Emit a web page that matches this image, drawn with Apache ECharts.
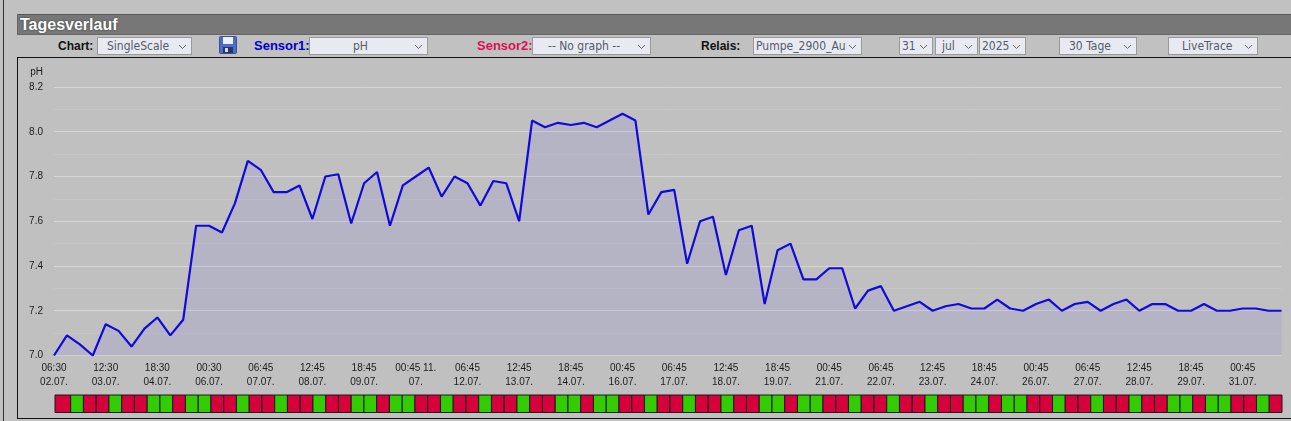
<!DOCTYPE html>
<html>
<head>
<meta charset="utf-8">
<title>Tagesverlauf</title>
<script src="https://cdn.jsdelivr.net/npm/echarts@6/dist/echarts.min.js"></script>
<style>
html,body{margin:0;padding:0;width:1291px;height:421px;overflow:hidden;background:#c1c1c1;font-family:"Liberation Sans",Arial,sans-serif}
.abs{position:absolute}
#leftline{left:3px;top:0;width:1px;height:421px;background:#333}
#titlebar{left:18px;top:14px;width:1273px;height:19px;background:#777;border-top:1px solid #555;border-bottom:1px solid #666;box-shadow:-1px 0 0 #666;color:#fff;font-weight:bold;font-size:16px;line-height:19px;text-indent:2px;text-shadow:0 0 2px #333}
.lab{top:38px;height:16px;line-height:16px;font-size:12px;font-weight:bold;color:#111;white-space:nowrap}
.sel{top:37px;height:16px;line-height:17px;box-sizing:content-box;background:#e9e9f1;border:1px solid #9a9a9a;font-family:"DejaVu Sans Condensed","DejaVu Sans",sans-serif;font-size:12px;color:#555b6b;white-space:nowrap;overflow:hidden}
.sel span.t{position:absolute;top:0}
.sel svg{position:absolute;top:6px;right:4px}
#frame{left:17px;top:57px;width:1274px;height:360px;border:1px solid #111;border-right:none;box-sizing:content-box;background:#c0c0c0}
#main{position:absolute;left:0;top:0;width:1291px;height:421px}
</style>
</head>
<body>
<div class="abs" id="leftline"></div>
<div class="abs" id="titlebar">Tagesverlauf</div>
<div class="abs" id="toolbar"></div>
<div class="abs" id="frame"></div>
<svg class="abs" style="left:219px;top:36px" width="18" height="18" viewBox="0 0 18 18">
  <rect x="0.5" y="0.5" width="17" height="17" rx="1" fill="#4a6cc8" stroke="#3a4f9e"/>
  <rect x="4" y="1" width="10" height="7" fill="#eef0f8"/>
  <rect x="4" y="11" width="10" height="6" fill="#2c3466"/>
  <rect x="6" y="12" width="3" height="4" fill="#d6d9e6"/>
</svg>
<div id="main"></div>
<script>
// pH, one value every 7.5 hours from 02.07. 06:30 to 31.07.
const phValues = [
  7.00,7.09,7.05,7.00,7.14,7.11,7.04,7.12,7.17,7.09,7.16,7.58,7.58,7.55,7.68,7.87,
  7.83,7.73,7.73,7.76,7.61,7.80,7.81,7.59,7.77,7.82,7.58,7.76,7.80,7.84,7.71,7.80,
  7.77,7.67,7.78,7.77,7.60,8.05,8.02,8.04,8.03,8.04,8.02,8.05,8.08,8.05,7.63,7.73,
  7.74,7.41,7.60,7.62,7.36,7.56,7.58,7.23,7.47,7.50,7.34,7.34,7.39,7.39,7.21,7.29,
  7.31,7.20,7.22,7.24,7.20,7.22,7.23,7.21,7.21,7.25,7.21,7.20,7.23,7.25,7.20,7.23,
  7.24,7.20,7.23,7.25,7.20,7.23,7.23,7.20,7.20,7.23,7.20,7.20,7.21,7.21,7.20,7.20
];
const tickLabels = [
  "06:30\n02.07.","12:30\n03.07.","18:30\n04.07.","00:30\n06.07.","06:45\n07.07.","12:45\n08.07.",
  "18:45\n09.07.","00:45 11.\n07.","06:45\n12.07.","12:45\n13.07.","18:45\n14.07.","00:45\n16.07.",
  "06:45\n17.07.","12:45\n18.07.","18:45\n19.07.","00:45\n21.07.","06:45\n22.07.","12:45\n23.07.",
  "18:45\n24.07.","00:45\n26.07.","06:45\n27.07.","12:45\n28.07.","18:45\n29.07.","00:45\n31.07."
];
// relay state per slot: 0 = off (red), 1 = on (green)
const relayStates = [
  0,1,0,0,1,0,0,1,1,0,1,1,0,0,1,0,0,1,0,0,1,0,0,1,1,0,1,1,0,0,
  1,0,0,1,0,0,1,0,0,1,1,0,1,1,0,0,1,0,0,1,0,0,1,0,0,1,1,0,1,1,0,0,1,
  0,0,1,0,0,1,0,0,1,1,0,1,1,0,0,1,0,0,1,0,0,1,0,0,1,1,0,1,1,0,0,1,0
];
// relative slot lengths: the first slot is a bit longer than the others
const relayFirstSlot = 1.23;
const yTicks = { min: 7.0, max: 8.2, step: 0.2 };
const toolbarLabels = [
  ["Chart:",58,"#111",12],["Sensor1:",254,"#0000cc",13],["Sensor2:",477,"#dd0f55",13],["Relais:",701,"#111",12]
];
const toolbarSelects = [
  ["SingleScale",97,95,9],["pH",309,119,43],["-- No graph --",532,119,15],["Pumpe_2900_Au",753,109,2],
  ["31",899,34,2],["jul",935,43,6],["2025",979,47,2],["30 Tage",1059,78,9],["LiveTrace",1168,90,13]
];

const chevron = '<svg width="9" height="6" viewBox="0 0 9 6"><path d="M1 1 L4.5 4.5 L8 1" fill="none" stroke="#666" stroke-width="1"/></svg>';
const tb = document.getElementById('toolbar');
tb.innerHTML =
  toolbarLabels.map(l => `<div class="abs lab" style="left:${l[1]}px;color:${l[2]};font-size:${l[3]}px">${l[0]}</div>`).join('') +
  toolbarSelects.map(s => `<div class="abs sel" style="left:${s[1]}px;width:${s[2]-2}px"><span class="t" style="left:${s[3]}px">${s[0]}</span>${chevron}</div>`).join('');

const categories = phValues.map((_, i) => i % 4 === 0 ? tickLabels[i / 4] : '');

let edge = 0;
const relaySegments = relayStates.map((state, i) => {
  const len = i === 0 ? relayFirstSlot : 1;
  const seg = [edge, edge + len, state];
  edge += len;
  return seg;
});

const chart = echarts.init(document.getElementById('main'), null, { renderer: 'canvas' });
chart.setOption({
  animation: false,
  backgroundColor: 'transparent',
  textStyle: { fontFamily: '"Liberation Sans", Arial, sans-serif' },
  grid: [
    { left: 54, top: 87, width: 1227.5, height: 268.5, containLabel: false },
    { left: 55, top: 395, width: 1227, height: 17.5 }
  ],
  xAxis: [
    {
      type: 'category', gridIndex: 0, data: categories, boundaryGap: false,
      axisLine: { show: false }, axisTick: { show: false }, splitLine: { show: false },
      axisLabel: { interval: 3, color: '#1c1c1c', fontSize: 10, lineHeight: 14, margin: 6, hideOverlap: false }
    },
    {
      type: 'value', gridIndex: 1, min: 0, max: edge,
      show: false, splitLine: { show: false }
    }
  ],
  yAxis: [
    {
      type: 'value', gridIndex: 0, min: yTicks.min, max: yTicks.max, interval: yTicks.step,
      name: 'pH', nameLocation: 'end', nameGap: 10,
      nameTextStyle: { color: '#1c1c1c', fontSize: 10, align: 'right', padding: [0, 11, 0, 0] },
      axisLine: { show: false }, axisTick: { show: false },
      axisLabel: { color: '#1c1c1c', fontSize: 10, margin: 11, formatter: v => v.toFixed(1) },
      splitLine: { show: true, lineStyle: { color: '#d6d6d6', width: 1 } },
      minorSplitLine: { show: true, lineStyle: { color: '#c6c6c6', width: 1 } },
      minorTick: { show: false, splitNumber: 2 }
    },
    { type: 'value', gridIndex: 1, min: 0, max: 1, show: false, splitLine: { show: false } }
  ],
  series: [
    {
      type: 'line', xAxisIndex: 0, yAxisIndex: 0, data: phValues, symbol: 'none', smooth: false,
      lineStyle: { color: '#1208dc', width: 2.2 },
      areaStyle: { color: 'rgba(75,58,255,0.12)', origin: 'start' },
      clip: false
    },
    {
      type: 'custom', xAxisIndex: 1, yAxisIndex: 1, data: relaySegments, clip: false,
      encode: { x: [0, 1] },
      renderItem: (params, api) => {
        const a = api.coord([api.value(0), 1]);
        const b = api.coord([api.value(1), 0]);
        return {
          type: 'rect',
          shape: { x: a[0], y: a[1], width: b[0] - a[0], height: b[1] - a[1] },
          style: { fill: api.value(2) ? '#33cc00' : '#d6003c', stroke: '#1a1a1a', lineWidth: 1 }
        };
      }
    }
  ]
});
</script>
</body>
</html>
